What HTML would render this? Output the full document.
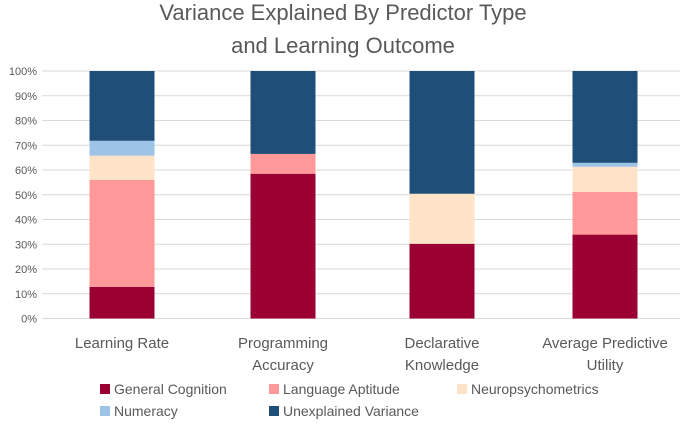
<!DOCTYPE html>
<html><head><meta charset="utf-8"><style>
body{margin:0;background:#fff;}
svg{display:block;font-family:"Liberation Sans",sans-serif;}
</style></head><body>
<svg id="chart" width="685" height="426">
<text x="343" y="20" text-anchor="middle" font-size="22" fill="#595959">Variance Explained By Predictor Type</text>
<text x="343" y="53" text-anchor="middle" font-size="22" fill="#595959">and Learning Outcome</text>
<g id="grid"></g><g id="bars"></g><g id="xlabels"></g><g id="legend"></g>
</svg>
<script>
const categories=[["Learning Rate"],["Programming","Accuracy"],["Declarative","Knowledge"],["Average Predictive","Utility"]];
const seriesNames=["General Cognition","Language Aptitude","Neuropsychometrics","Numeracy","Unexplained Variance"];
const generalCognition=[12.8,58.5,30.2,33.9];
const languageAptitude=[43.2,8,0,17.3];
const neuropsychometrics=[9.8,0,20.2,10.1];
const numeracy=[6,0,0,1.6];
const unexplained=[28.2,33.5,49.6,37.1];
const yTicks=[0,10,20,30,40,50,60,70,80,90,100];
const colors=["#9b0033","#ff9999","#ffe3c8","#9dc3e6","#1f4e79"];
const NS="http://www.w3.org/2000/svg";
const y0=318.5,y1=71,xL=42,xR=680;
const yS=v=>y0-(y0-y1)*v/100;
const band=(xR-xL)/categories.length;
const xC=i=>xL+band*(i+0.5)+0*i;
function mk(t,a,p){const e=document.createElementNS(NS,t);for(const k in a)e.setAttribute(k,a[k]);p.appendChild(e);return e;}
const grid=document.getElementById('grid');
yTicks.forEach(t=>{
 const l=mk('line',{x1:xL,x2:xR,y1:yS(t),y2:yS(t),stroke:'#d9d9d9','stroke-width':1},grid);
 
 
 const tx=mk('text',{x:37,y:yS(t)+4,'text-anchor':'end','font-size':11,fill:'#595959'},grid);
 tx.textContent=t+'%';
 
 
});
const series=[generalCognition,languageAptitude,neuropsychometrics,numeracy,unexplained];
const bars=document.getElementById('bars');
const bw=65;
categories.forEach((c,i)=>{
 let acc=0;
 const cx=[122,283,442,605][i];
 series.forEach((s,j)=>{
  const v=s[i]; if(v<=0){return;}
  const r=mk('rect',{x:cx-bw/2,y:yS(acc+v),width:bw,height:yS(acc)-yS(acc+v),fill:colors[j]},bars);
  
  
  acc+=v;
 });
 const t=mk('text',{x:cx,'text-anchor':'middle','font-size':15,fill:'#595959'},document.getElementById('xlabels'));
 
 
 c.forEach((ln,k)=>{const ts=mk('tspan',{x:cx,y:348+k*22},t);ts.textContent=ln;});
});
const lg=document.getElementById('legend');
const lpos=[[100,394],[269,394],[457,394],[100,416],[269,416]];
seriesNames.forEach((n,j)=>{
 const g=mk('g',{},lg);
 
 
 mk('rect',{x:lpos[j][0],y:lpos[j][1]-10,width:10,height:10,fill:colors[j]},g);
 const t=mk('text',{x:lpos[j][0]+14,y:lpos[j][1],'font-size':14,fill:'#595959'},g);
 t.textContent=n;
});
</script>
</body></html>
